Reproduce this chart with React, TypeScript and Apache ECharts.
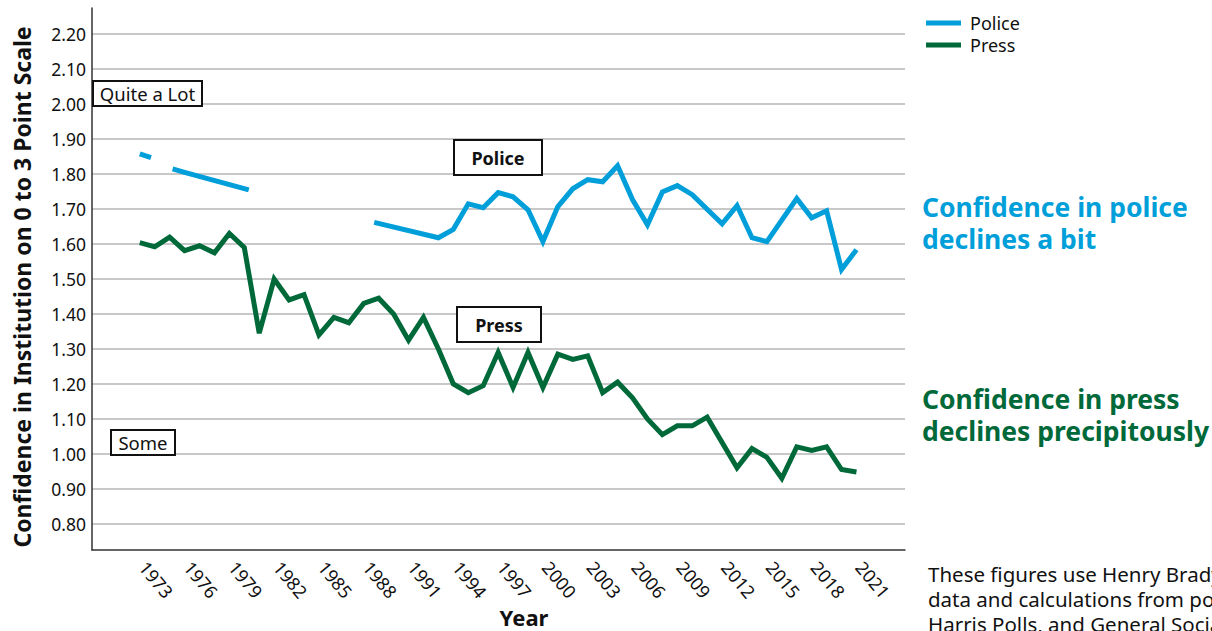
import React, { useEffect, useRef } from "react";
import * as echarts from "echarts";

// ---- data ----
const pressYears = [
  1973, 1974, 1975, 1976, 1977, 1978, 1979, 1980, 1981, 1982, 1983, 1984, 1985, 1986, 1987, 1988,
  1989, 1990, 1991, 1992, 1993, 1994, 1995, 1996, 1997, 1998, 1999, 2000, 2001, 2002, 2003, 2004,
  2005, 2006, 2007, 2008, 2009, 2010, 2011, 2013, 2014, 2015, 2016, 2017, 2018, 2019, 2020, 2021,
];
const pressValues = [
  1.604, 1.592, 1.62, 1.581, 1.595, 1.575, 1.63, 1.59, 1.345, 1.5, 1.44, 1.455, 1.34, 1.39, 1.375, 1.43,
  1.445, 1.4, 1.325, 1.39, 1.3, 1.2, 1.175, 1.195, 1.29, 1.19, 1.29, 1.19, 1.285, 1.27, 1.28, 1.175,
  1.205, 1.16, 1.1, 1.055, 1.08, 1.08, 1.105, 0.96, 1.015, 0.99, 0.93, 1.02, 1.01, 1.02, 0.955, 0.948,
];
// null entries mark the breaks in the police line
const policeYears = [
  1973, 1973.75, 1974.5, 1975.2, 1976, 1980.3, 1984, 1988.7, 1993, 1994, 1995, 1996, 1997, 1998, 1999,
  2000, 2001, 2002, 2003, 2004, 2005, 2006, 2007, 2008, 2009, 2010, 2012, 2013, 2014, 2015, 2017, 2018,
  2019, 2020, 2021,
];
const policeValues = [
  1.858, 1.847, null, 1.815, 1.805, 1.755, null, 1.662, 1.618, 1.642, 1.715, 1.704, 1.747, 1.735, 1.698,
  1.607, 1.707, 1.758, 1.784, 1.778, 1.824, 1.727, 1.655, 1.749, 1.767, 1.741, 1.658, 1.71, 1.618, 1.607,
  1.73, 1.675, 1.695, 1.527, 1.584,
];
const yTicks = [0.8, 0.9, 1.0, 1.1, 1.2, 1.3, 1.4, 1.5, 1.6, 1.7, 1.8, 1.9, 2.0, 2.1, 2.2];
const xTicks = [1973, 1976, 1979, 1982, 1985, 1988, 1991, 1994, 1997, 2000, 2003, 2006, 2009, 2012, 2015, 2018, 2021];

const policeNote = ["Confidence in police", "declines a bit"];
const pressNote = ["Confidence in press", "declines precipitously"];
const sourceNote = [
  "These figures use Henry Brady's",
  "data and calculations from polls,",
  "Harris Polls, and General Social Survey",
];

const BLUE = "#009fda";
const GREEN = "#00693a";
const FONT = "'Noto Sans', sans-serif";

export default function App() {
  const ref = useRef<HTMLDivElement>(null);
  useEffect(() => {
    if (!ref.current) return;
    const chart = echarts.init(ref.current, null, { renderer: "svg" });
    const police = policeYears.map((y, i) => [y, policeValues[i] === null ? "-" : policeValues[i]]);
    const press = pressYears.map((y, i) => [y, pressValues[i]]);
    const boxText = (
      x: number, y: number, w: number, h: number, text: string, bold: boolean, size: number
    ) => [
      {
        type: "rect",
        shape: { x, y, width: w, height: h },
        style: { fill: "#fff", stroke: "#111", lineWidth: 2 },
        z: 100,
      },
      {
        type: "text",
        x: x + w / 2,
        y: y + h / 2,
        style: {
          text,
          fill: "#111",
          font: `${bold ? "bold " : ""}${size}px ${FONT}`,
          align: "center",
          verticalAlign: "middle",
        },
        z: 101,
      },
    ];
    const lines = (
      texts: string[], x: number, y0: number, step: number, color: string, font: string
    ) =>
      texts.map((t, i) => ({
        type: "text",
        x,
        y: y0 + i * step,
        style: {
          text: t,
          fill: color,
          font,
          lineHeight: step - 2,
          align: "left",
          verticalAlign: "middle",
        },
      }));
    chart.setOption({
      animation: false,
      backgroundColor: "#fff",
      textStyle: { fontFamily: FONT },
      grid: { left: 92, right: 307, top: 8, bottom: 81, containLabel: false },
      legend: {
        orient: "vertical",
        left: 926,
        top: 14,
        padding: 0,
        icon: "rect",
        itemWidth: 35,
        itemHeight: 5,
        itemGap: 4,
        data: ["Police", "Press"],
        textStyle: { fontSize: 18, lineHeight: 18, color: "#111", fontFamily: FONT, padding: [0, 0, 0, 4] },
      },
      xAxis: {
        type: "value",
        min: 1969.8,
        max: 2024.25,
        axisLine: { show: true, lineStyle: { color: "#333", width: 1.5 } },
        axisTick: { show: false, customValues: xTicks },
        splitLine: { show: false },
        axisLabel: {
          customValues: xTicks,
          rotate: -50,
          margin: 10,
          fontSize: 18,
          padding: [0, 0, 0, 5],
          color: "#111",
          fontFamily: FONT,
          formatter: (v: number) => String(v),
        },
      },
      yAxis: {
        type: "value",
        min: 0.725,
        max: 2.275,
        axisLine: { show: true, lineStyle: { color: "#333", width: 1.5 } },
        axisTick: { show: false, customValues: yTicks },
        splitLine: { show: true, lineStyle: { color: "#c8c8c8", width: 2 } },
        axisLabel: {
          customValues: yTicks,
          margin: 6,
          fontSize: 17.5,
          color: "#111",
          fontFamily: FONT,
          formatter: (v: number) => v.toFixed(2),
        },
      },
      series: [
        {
          name: "Police",
          type: "line",
          data: police,
          showSymbol: false,
          connectNulls: false,
          lineStyle: { color: BLUE, width: 5, join: "miter", miterLimit: 4, cap: "butt" },
          itemStyle: { color: BLUE },
          z: 3,
        },
        {
          name: "Press",
          type: "line",
          data: press,
          showSymbol: false,
          lineStyle: { color: GREEN, width: 5, join: "miter", miterLimit: 4, cap: "butt" },
          itemStyle: { color: GREEN },
          z: 3,
        },
      ],
      graphic: [
        ...boxText(93, 81, 109, 25, "Quite a Lot", false, 18.5),
        ...boxText(111, 430, 64, 25, "Some", false, 18.5),
        ...boxText(454, 140, 88, 35, "Police", true, 18),
        ...boxText(457, 307, 84, 35, "Press", true, 18),
        {
          type: "text",
          x: 22,
          y: 287,
          rotation: Math.PI / 2,
          style: {
            text: "Confidence in Institution on 0 to 3 Point Scale",
            fill: "#111",
            font: `bold 23px ${FONT}`,
            align: "center",
            verticalAlign: "middle",
          },
        },
        {
          type: "text",
          x: 524,
          y: 617,
          style: {
            text: "Year",
            fill: "#111",
            font: `bold 22px ${FONT}`,
            align: "center",
            verticalAlign: "middle",
          },
        },
        ...lines(policeNote, 922, 207, 32, BLUE, `bold 26.5px ${FONT}`),
        ...lines(pressNote, 922, 399, 32, GREEN, `bold 26.5px ${FONT}`),
        ...lines(sourceNote, 928, 574, 25, "#111", `20.5px ${FONT}`),
      ],
    });
    return () => chart.dispose();
  }, []);
  return (
    <div
      ref={ref}
      style={{ position: "absolute", left: 0, top: 0, width: 1212, height: 631 }}
    />
  );
}
